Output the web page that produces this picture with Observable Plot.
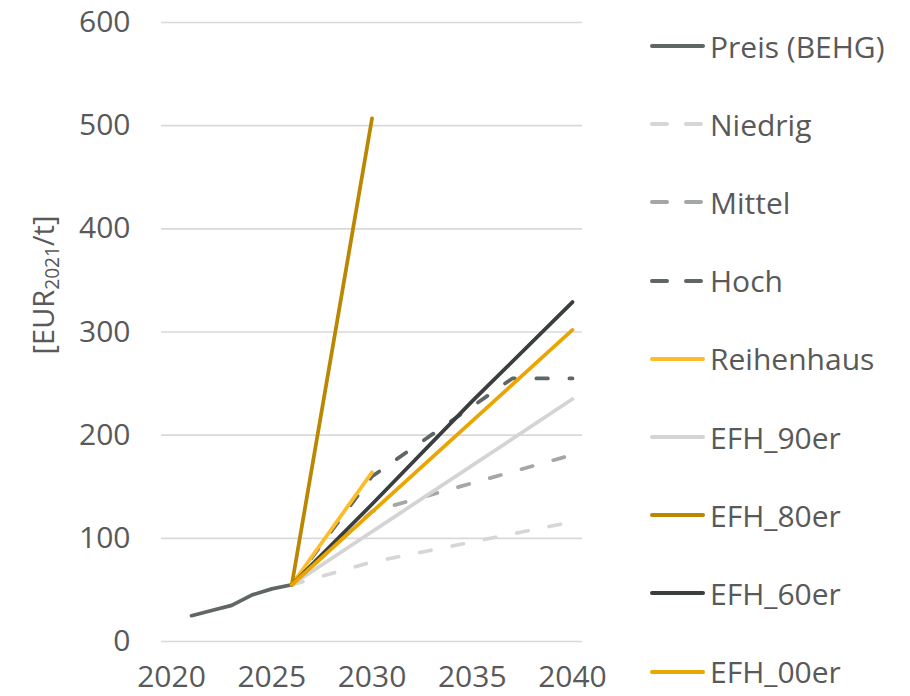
<!DOCTYPE html>
<html>
<head>
<meta charset="utf-8">
<script src="https://cdn.jsdelivr.net/npm/d3@7"></script>
<script src="https://cdn.jsdelivr.net/npm/@observablehq/plot@0.6"></script>
<style>
  html, body { margin: 0; padding: 0; background: #fff; }
  #chart { position: relative; width: 910px; height: 696px; font-family: "Open Sans", sans-serif; color: #595959; }
  #chart > svg { position: absolute; left: 0; top: 0; }
  #ytitle { position: absolute; left: 45px; top: 285px; transform: translate(-50%, -50%) rotate(-90deg);
            font-size: 29px; white-space: nowrap; line-height: 1; }
  #ytitle sub { font-size: 0.66em; vertical-align: -0.3em; }
  #legend { position: absolute; left: 648px; top: 7px; }
  .item { display: flex; align-items: center; height: 78.2px; font-size: 30px; }
  .item svg { margin-right: 5px; flex: none; }
</style>
</head>
<body>
<div id="chart"></div>
<script>
// CO2 price paths in EUR(2021) per tonne
const xTicks = [2020, 2025, 2030, 2035, 2040];
const yTicks = [0, 100, 200, 300, 400, 500, 600];

const preisYears = [2021, 2022, 2023, 2024, 2025, 2026];
const preisValues = [25, 30, 35, 45, 51, 55];

const niedrigYears = [2026, 2030, 2040];
const niedrigValues = [55, 77, 116];

const mittelYears = [2026, 2030, 2040];
const mittelValues = [55, 126, 181];

const hochYears = [2026, 2030, 2037, 2040];
const hochValues = [55, 160, 255, 255];

const reihenhausYears = [2026, 2030];
const reihenhausValues = [55, 164];

const efh90Years = [2026, 2040];
const efh90Values = [55, 235];

const efh80Years = [2026, 2030];
const efh80Values = [55, 507];

const efh60Years = [2026, 2030, 2035, 2040];
const efh60Values = [55, 133, 233, 329];

const efh00Years = [2026, 2040];
const efh00Values = [55, 302];

const seriesNames = ["Preis (BEHG)", "Niedrig", "Mittel", "Hoch", "Reihenhaus", "EFH_90er", "EFH_80er", "EFH_60er", "EFH_00er"];
const seriesYears = [preisYears, niedrigYears, mittelYears, hochYears, reihenhausYears, efh90Years, efh80Years, efh60Years, efh00Years];
const seriesValues = [preisValues, niedrigValues, mittelValues, hochValues, reihenhausValues, efh90Values, efh80Values, efh60Values, efh00Values];

// styling per series
const seriesColors = ["#5f6766", "#d6d6d6", "#a3a7a7", "#5f6766", "#fcbd29", "#d4d4d4", "#bb8600", "#3a3e3e", "#eaa500"];
const seriesDashed = [false, true, true, true, false, false, false, false, false];

const series = seriesNames.map((name, i) => ({
  name,
  color: seriesColors[i],
  dashed: seriesDashed[i],
  rows: seriesYears[i].map((year, j) => ({year, value: seriesValues[i][j]}))
}));

const lineWidth = 3.75;

const plot = Plot.plot({
  width: 910,
  height: 696,
  marginLeft: 161,
  marginRight: 328,
  marginTop: 22,
  marginBottom: 55,
  style: {fontFamily: "Open Sans, sans-serif", fontSize: "30px", color: "#595959", background: "transparent"},
  x: {domain: [2019.5, 2040.5], type: "linear"},
  y: {domain: [0, 600]},
  marks: [
    Plot.gridY(yTicks, {stroke: "#d9d9d9", strokeOpacity: 1, strokeWidth: 1.6}),
    ...series.map(s => Plot.line(s.rows, {
      x: "year",
      y: "value",
      stroke: s.color,
      strokeWidth: lineWidth,
      strokeLinecap: "round",
      strokeLinejoin: "round",
      strokeDasharray: s.dashed ? "11.5,21.5" : null
    })),
    Plot.axisX(xTicks, {tickSize: 0, tickPadding: 24, tickFormat: d => String(d), label: null}),
    Plot.axisY(yTicks, {tickSize: 0, tickPadding: 31, label: null})
  ]
});

const chart = document.getElementById("chart");
chart.appendChild(plot);

// y axis title with subscript
const title = document.createElement("div");
title.id = "ytitle";
title.innerHTML = "[EUR<sub>2021</sub>/t]";
chart.appendChild(title);

// legend, one row per series
const legend = document.createElement("div");
legend.id = "legend";
series.forEach(s => {
  const item = document.createElement("div");
  item.className = "item";
  const dash = s.dashed ? ' stroke-dasharray="15,19"' : "";
  item.innerHTML =
    `<svg width="57" height="10"><line x1="4" x2="55" y1="5" y2="5" stroke="${s.color}" stroke-width="4" stroke-linecap="round"${dash}/></svg>` +
    `<span>${s.name}</span>`;
  legend.appendChild(item);
});
chart.appendChild(legend);
</script>
</body>
</html>
